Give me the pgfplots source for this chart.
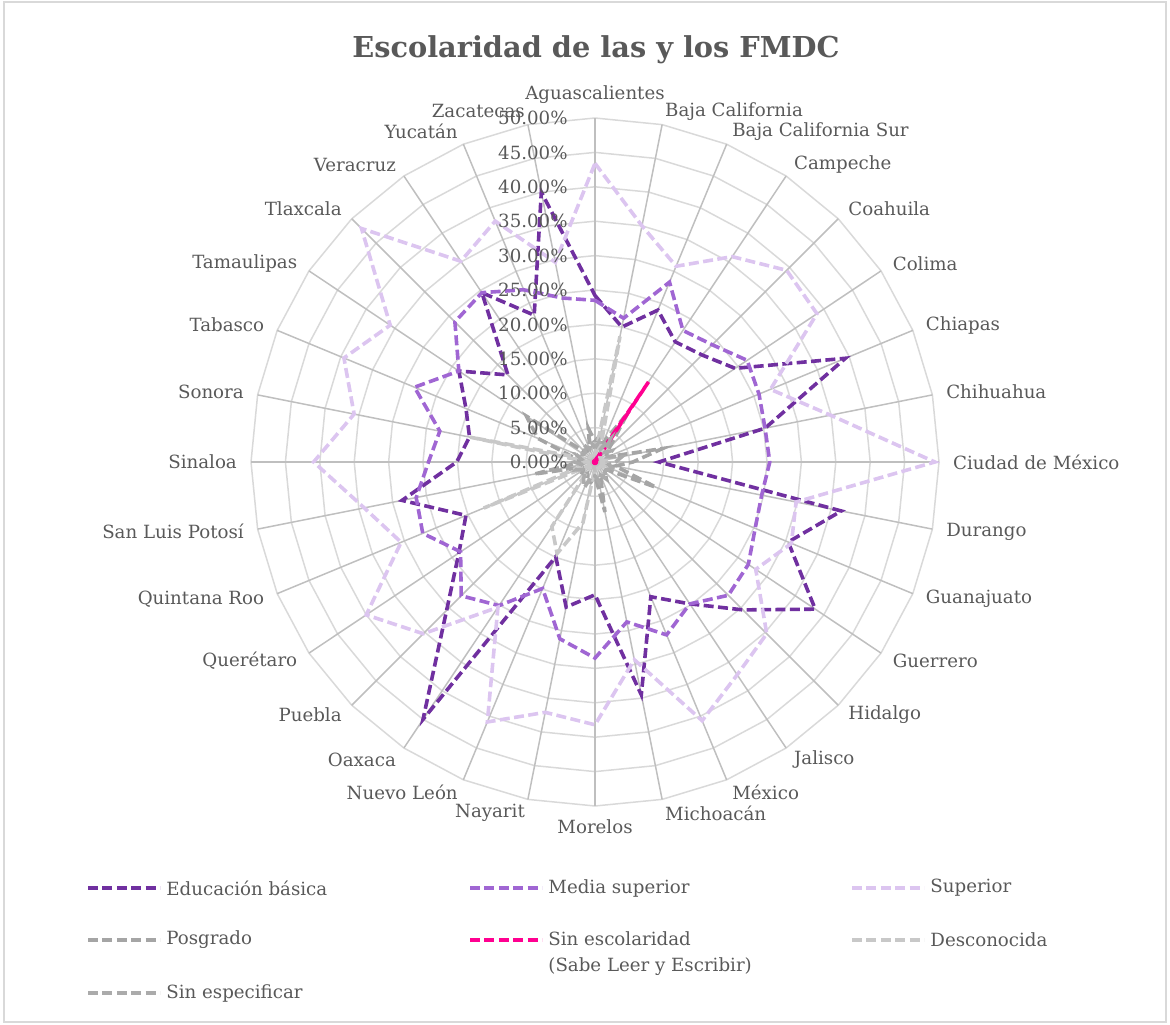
\documentclass[border=0pt]{standalone}
\usepackage{pgfplots}
\pgfplotsset{compat=1.18}
\usepackage{pgfplotstable}
\usepackage{fontspec}
\setmainfont{DejaVu Serif}
\definecolor{txt}{HTML}{595959}
\definecolor{ringc}{HTML}{D9D9D9}
\definecolor{spokec}{HTML}{BFBFBF}
\definecolor{cEB}{HTML}{7030A0}
\definecolor{cMS}{HTML}{A066D3}
\definecolor{cSU}{HTML}{DCC5F0}
\definecolor{cPO}{HTML}{A5A5A5}
\definecolor{cSE}{HTML}{FF0090}
\definecolor{cDE}{HTML}{C8C8C8}
\definecolor{cSP}{HTML}{ABABAB}
\newcommand\lblfont{\fontsize{9.1}{13}\selectfont}
\tikzset{dsh/.style={line width=1.8pt, dash pattern=on 5pt off 2.2pt}}

\pgfplotstableread{
k eb ms sup pos sinesc des se
0 24.2 23.5 43.4 3 0.3 1 2
1 20.0 21.3 35.0 4 0.3 18.6 3
2 23.9 28.3 30.8 3 0.5 2 2
3 21.0 23.0 35.9 8.6 14 2 4
4 22.0 24.1 39.4 3 0.3 1 2
5 24.5 26.6 38.8 2 0.2 1 3
6 39.4 25.8 27.6 2 0.2 1 2
7 25.2 25.2 34.9 10 0.2 2 4
8 9.3 25.4 49.4 5.5 0.2 1 3
9 36.5 24.7 29.8 3 0.2 1 2
10 30.4 25.2 30.9 9.6 0.2 2 3
11 38.5 26.8 28.1 2 0.2 1 2
12 30.4 27.4 35.3 2 0.2 1 2
13 24.8 24.8 37.2 3 0.2 1 3
14 21.2 27.2 40.7 2 0.2 1 2
15 34.5 23.7 29.3 7.4 0.2 1 3
16 19.3 28.5 38.2 2 0.2 1 2
17 21.5 26.2 37.1 3 0.2 9 2
18 14.9 19.9 40.9 3 0.2 14.4 4
19 45.0 25.1 25.4 2 0.2 11.3 3
20 30.5 27.5 35.3 3 0.2 1 2
21 23.8 23.5 40.0 2 0.2 1 2
22 20.3 27.1 30.5 2 0.2 17.5 3
23 28.6 26.5 34.2 9 0.2 1 2
24 20.1 24.2 40.9 2 0.2 1 3
25 18.6 23.0 35.7 3 0.2 18.5 2
26 20.3 28.4 39.5 9 0.2 1 3
27 23.8 23.8 35.8 12 0.2 1 2
28 17.9 28.8 48.0 2 0.2 1 2
29 29.6 29.6 35.1 2 0.2 1 3
30 23.1 27.1 37.9 2 0.2 1 2
31 40.0 24.3 29.6 5 0.2 1 3
32 24.2 23.5 43.4 3 0.3 1 2
}\data

\newcommand\radar[2]{\addplot[#1] table[x expr={\thisrow{#2}*sin(11.25*\thisrow{k})}, y expr={\thisrow{#2}*cos(11.25*\thisrow{k})}] {\data};}
\newcommand\lab[3]{\node[anchor=#2, inner sep=0pt, font=\lblfont, text=txt] at (axis cs:{52*sin(11.25*#1)},{52*cos(11.25*#1)}) {#3};}

\begin{document}
\begin{tikzpicture}
\useasboundingbox (0,0) rectangle (585pt,512pt);
\begin{axis}[
  at={(297.5pt,281pt)}, anchor=center,
  hide axis, clip=false,
  xmin=-50, xmax=50, ymin=-50, ymax=50,
  x=3.44pt, y=3.44pt,
  scale only axis,
]
\pgfplotsinvokeforeach{5,10,...,50}{
  \addplot[ringc, line width=0.75pt, forget plot] table[x expr={#1*sin(11.25*\thisrow{k})}, y expr={#1*cos(11.25*\thisrow{k})}] {\data};
}
\pgfplotsinvokeforeach{0,...,31}{
  \draw[spokec, line width=0.75pt] (axis cs:0,0) -- (axis cs:{50*sin(11.25*#1)},{50*cos(11.25*#1)});
}
\radar{cEB, dsh}{eb}
\radar{cMS, dsh}{ms}
\radar{cSU, dsh}{sup}
\radar{cPO, dsh}{pos}
\radar{cSE, dsh}{sinesc}
\radar{cDE, dsh}{des}
\radar{cSP, dsh}{se}
\pgfplotsinvokeforeach{0,5,...,50}{
  \node[anchor=east, inner sep=0pt, font=\lblfont, text=txt, xshift=-13.5pt] at (axis cs:0,#1) {#1.00\%};
}
\lab{0}{south}{Aguascalientes}
\lab{1}{west}{Baja California}
\lab{2}{west}{Baja California Sur}
\lab{3}{west}{Campeche}
\lab{4}{west}{Coahuila}
\lab{5}{west}{Colima}
\lab{6}{west}{Chiapas}
\lab{7}{west}{Chihuahua}
\lab{8}{west}{Ciudad de México}
\lab{9}{west}{Durango}
\lab{10}{west}{Guanajuato}
\lab{11}{west}{Guerrero}
\lab{12}{west}{Hidalgo}
\lab{13}{west}{Jalisco}
\lab{14}{west}{México}
\lab{15}{west}{Michoacán}
\lab{16}{north}{Morelos}
\lab{17}{east}{Nayarit}
\lab{18}{east}{Nuevo León}
\lab{19}{east}{Oaxaca}
\lab{20}{east}{Puebla}
\lab{21}{east}{Querétaro}
\lab{22}{east}{Quintana Roo}
\lab{23}{east}{San Luis Potosí}
\lab{24}{east}{Sinaloa}
\lab{25}{east}{Sonora}
\lab{26}{east}{Tabasco}
\lab{27}{east}{Tamaulipas}
\lab{28}{east}{Tlaxcala}
\lab{29}{east}{Veracruz}
\lab{30}{east}{Yucatán}
\lab{31}{east}{Zacatecas}
\end{axis}
\begin{scope}[x=0.5pt, y=-0.5pt, yshift=512pt]
\draw[ringc, line width=0.75pt] (4,2) rectangle (1166,1022);
\node[font=\fontsize{14.4}{16}\selectfont\bfseries, text=txt] at (596,50) {Escolaridad de las y los FMDC};
\begin{scope}[font=\lblfont, text=txt]
\draw[cEB, dsh] (88,888) -- (160,888); \node[anchor=west, inner sep=0pt] at (166,888) {Educación básica};
\draw[cMS, dsh] (470,888) -- (542,888); \node[anchor=west, inner sep=0pt] at (548,888) {Media superior};
\draw[cSU, dsh] (852,888) -- (924,888); \node[anchor=west, inner sep=0pt] at (930,888) {Superior};
\draw[cPO, dsh] (88,940) -- (160,940); \node[anchor=west, inner sep=0pt] at (166,940) {Posgrado};
\draw[cSE, dsh] (470,940) -- (542,940); \node[anchor=north west, inner sep=0pt, align=left] at (548,931) {Sin escolaridad\\(Sabe Leer y Escribir)};
\draw[cDE, dsh] (852,940) -- (924,940); \node[anchor=west, inner sep=0pt] at (930,940) {Desconocida};
\draw[cSP, dsh] (88,993) -- (160,993); \node[anchor=west, inner sep=0pt] at (166,993) {Sin especificar};
\end{scope}
\end{scope}
\end{tikzpicture}
\end{document}
